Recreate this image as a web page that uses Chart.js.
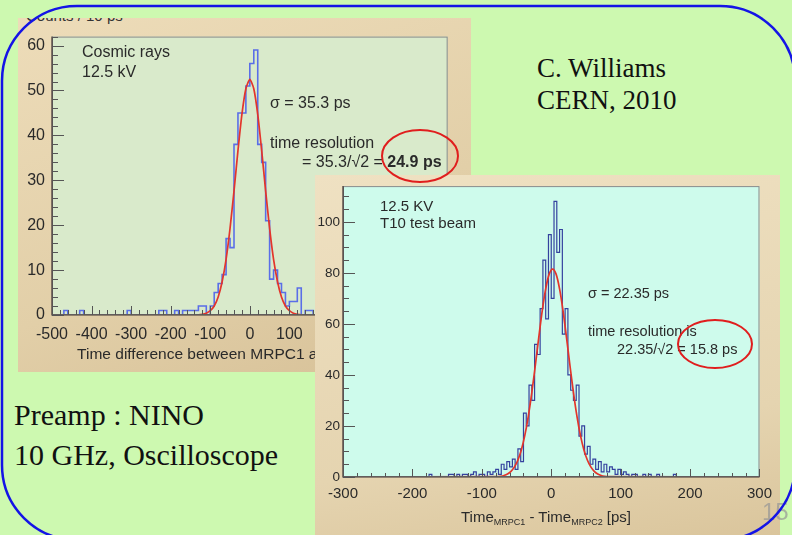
<!DOCTYPE html>
<html>
<head>
<meta charset="utf-8">
<title>MRPC time resolution</title>
<script src="https://cdn.jsdelivr.net/npm/chart.js@4.4.1/dist/chart.umd.min.js"></script>
<style>
  html, body { margin: 0; padding: 0; }
  body {
    width: 792px; height: 535px; overflow: hidden; position: relative;
    background: #cdf9b0;
    font-family: "Liberation Sans", Arial, sans-serif; color: #222;
  }
  .abs { position: absolute; white-space: nowrap; }
  .frame { position: absolute; overflow: hidden; }
  #frameL {
    left: 18px; top: 18px; width: 453px; height: 354px;
    background: linear-gradient(160deg, #eddcb9 0%, #e2cfa8 60%, #d6c097 100%);
  }
  #frameL canvas { position: absolute; left: 0; top: 2px; }
  #frameR {
    left: 315px; top: 175px; width: 465px; height: 360px;
    background: linear-gradient(170deg, #efe1c2 0%, #e5d4b0 70%, #dac59c 100%);
  }
  #frameR canvas { position: absolute; left: 0; top: 0; }
  .plotText { font-size: 16px; line-height: 20px; color: #2a2a2a; }
  .plotTextR { font-size: 14.5px; line-height: 18px; color: #2a2a2a; }
  .serif { font-family: "Liberation Serif", "Times New Roman", serif; color: #111; }
  sub { font-size: 9px; vertical-align: -3px; }
  #overlay { position: absolute; left: 0; top: 0; pointer-events: none; }
</style>
</head>
<body>

<div class="frame" id="frameL">
  <div class="abs" style="left:8px; top:-11px; font-size:15px; color:#333;">Counts / 10 ps</div>
  <canvas id="chartL" width="453" height="352"></canvas>
</div>

<div class="abs plotText" style="left:82px; top:42px;">Cosmic rays<br>12.5 kV</div>
<div class="abs plotText" style="left:270px; top:93px;">σ = 35.3 ps</div>
<div class="abs plotText" style="left:270px; top:133px;">time resolution</div>
<div class="abs plotText" style="left:302px; top:152px;">= 35.3/√2 = <b>24.9 ps</b></div>

<div class="frame" id="frameR">
  <canvas id="chartR" width="465" height="360"></canvas>
</div>

<div class="abs" style="left:380px; top:197px; font-size:15px; line-height:17px; color:#2a2a2a;">12.5 KV<br>T10 test beam</div>
<div class="abs plotTextR" style="left:588px; top:284px;">σ = 22.35 ps</div>
<div class="abs plotTextR" style="left:588px; top:322px;">time resolution is</div>
<div class="abs plotTextR" style="left:617px; top:340px;">22.35/√2 = 15.8 ps</div>
<div class="abs" style="left:546px; top:508px; transform:translateX(-50%); font-size:15px; line-height:18px; color:#2a2a2a;">Time<sub>MRPC1</sub> - Time<sub>MRPC2</sub> [ps]</div>

<div class="abs serif" style="left:537px; top:52px; font-size:27px; line-height:32px;">C. Williams<br>CERN, 2010</div>
<div class="abs serif" style="left:14px; top:395px; font-size:30px; line-height:40px;">Preamp : NINO<br>10 GHz, Oscilloscope</div>
<div class="abs" style="left:762px; top:498px; font-size:24px; line-height:28px; color:rgba(150,150,150,0.7);">15</div>

<svg id="overlay" width="792" height="535">
  <rect x="2" y="6" width="793" height="534" rx="75" ry="75" fill="none" stroke="#1414e6" stroke-width="2.5"/>
  <ellipse cx="420" cy="156" rx="38" ry="26" fill="none" stroke="#e01e1e" stroke-width="2"/>
  <ellipse cx="715" cy="344" rx="37" ry="24" fill="none" stroke="#e01e1e" stroke-width="2"/>
</svg>

<script>
// cosmic-ray run: time difference histogram, 10 ps bins from -500 ps
const cosmicBinStart = -500;
const cosmicBinWidth = 10;
const cosmicCounts = [
  0, 0, 0, 1, 0, 0, 0, 1, 0, 0,       // -500
  0, 0, 0, 0, 0, 0, 0, 0, 0, 1,       // -400
  0, 0, 0, 0, 0, 0, 0, 1, 1, 0,       // -300
  0, 1, 0, 1, 1, 1, 1, 2, 2, 0,       // -200
  2, 5, 7, 9, 17, 15, 38, 45, 45, 51, // -100
  56, 59, 38, 34, 21, 8, 10, 7, 5, 2, // 0
  3, 3, 6, 0, 1, 1, 0, 0, 0, 0,       // 100
  0, 0, 0, 0, 0, 0, 0, 0, 0, 0,       // 200
  0, 0, 0, 0, 0, 0, 0, 0, 0, 0,       // 300
  0, 0, 0, 0, 0, 0, 0, 0, 0, 0        // 400
];
// gaussian fit, sigma = 35.3 ps
const cosmicFitX = [-500, -130, -120, -110, -100, -90, -80, -70, -60, -50, -40, -30, -20, -10, 0,
  10, 20, 30, 40, 50, 60, 70, 80, 90, 100, 110, 120, 130, 500];
const cosmicFitY = [0, 0.06, 0.16, 0.41, 0.95, 2.0, 4.0, 7.4, 12.4, 19.3, 27.6, 36.6, 44.7, 50.4, 52.5,
  50.4, 44.7, 36.6, 27.6, 19.3, 12.4, 7.4, 4.0, 2.0, 0.95, 0.41, 0.16, 0.06, 0];

// T10 test beam: Time_MRPC1 - Time_MRPC2, 4 ps bins from -300 ps
const beamBinStart = -300;
const beamBinWidth = 4;
const beamCounts = [
  0, 0, 0, 0, 0, 0, 0, 0, 0, 0,           // -300
  0, 0, 0, 0, 0, 0, 0, 0, 0, 0,           // -260
  0, 0, 0, 0, 0, 0, 0, 0, 0, 0,           // -220
  0, 1, 0, 0, 0, 0, 0, 0, 1, 1,           // -180
  0, 1, 0, 1, 1, 0, 1, 2, 0, 1,           // -140
  1, 0, 2, 1, 2, 3, 1, 5, 3, 6,           // -100
  4, 7, 3, 11, 6, 25, 20, 36, 30, 52,     // -60
  48, 66, 85, 62, 95, 70, 108, 88, 97, 56,// -20
  66, 40, 34, 30, 36, 16, 20, 9, 12, 5,   // 20
  7, 3, 6, 2, 5, 2, 4, 3, 1, 3,           // 60
  1, 2, 1, 0, 1, 1, 0, 0, 1, 0,           // 100
  1, 0, 0, 1, 0, 0, 0, 0, 0, 1,           // 140
  0, 0, 0, 0, 0, 0, 0, 0, 0, 0,           // 180
  0, 0, 0, 0, 0, 0, 0, 0, 0, 0,           // 220
  0, 0, 0, 0, 0, 0, 0, 0, 0, 0            // 260
];
// gaussian fit, sigma = 22.35 ps
const beamFitX = [-300, -78, -73, -68, -63, -58, -53, -48, -43, -38, -33, -28, -23, -18, -13, -8, -3, 2,
  7, 12, 17, 22, 27, 32, 37, 42, 47, 52, 57, 62, 67, 72, 77, 82, 300];
const beamFitY = [0, 0.13, 0.29, 0.6, 1.19, 2.22, 3.95, 6.67, 10.7, 16.4, 23.9, 33.1, 43.6, 54.6, 65.1, 73.7, 79.5, 81.5,
  79.5, 73.7, 65.1, 54.6, 43.6, 33.1, 23.9, 16.4, 10.7, 6.67, 3.95, 2.22, 1.19, 0.6, 0.29, 0.13, 0];

const FONT = '"Liberation Sans", Arial, sans-serif';

// bin edges -> points for a stepped line
function histPoints(start, width, counts) {
  const pts = [{ x: start, y: 0 }];
  counts.forEach((c, i) => pts.push({ x: start + i * width, y: c }));
  pts.push({ x: start + counts.length * width, y: 0 });
  return pts;
}

function curvePoints(xs, ys) {
  return xs.map((x, i) => ({ x: x, y: ys[i] }));
}

// ROOT-like frame: filled pad, box, inward major/minor ticks
const rootFrame = {
  id: 'rootFrame',
  beforeDraw(chart, args, opts) {
    const { ctx, chartArea: a } = chart;
    ctx.save();
    ctx.fillStyle = opts.bg;
    ctx.fillRect(a.left, a.top, a.right - a.left, a.bottom - a.top);
    ctx.restore();
  },
  afterDatasetsDraw(chart, args, opts) {
    const { ctx, chartArea: a } = chart;
    const xs = chart.scales.x, ys = chart.scales.y;
    ctx.save();
    ctx.strokeStyle = '#8a8a8a';
    ctx.lineWidth = 1;
    ctx.strokeRect(a.left + 0.5, a.top + 0.5, a.right - a.left - 1, a.bottom - a.top - 1);

    ctx.strokeStyle = '#3a3030';
    ctx.lineWidth = 1.2;
    ctx.beginPath();
    ctx.moveTo(a.left, a.top); ctx.lineTo(a.left, a.bottom); ctx.lineTo(a.right, a.bottom);
    ctx.stroke();

    ctx.strokeStyle = '#555';
    ctx.lineWidth = 1;
    ctx.beginPath();
    for (let v = xs.min; v <= xs.max + 1e-6; v += opts.xMinor) {
      const px = Math.round(xs.getPixelForValue(v)) + 0.5;
      const major = Math.abs(v / opts.xMajor - Math.round(v / opts.xMajor)) < 1e-6;
      ctx.moveTo(px, a.bottom);
      ctx.lineTo(px, a.bottom - (major ? opts.xMajorLen : opts.xMinorLen));
    }
    for (let v = ys.min; v <= ys.max + 1e-6; v += opts.yMinor) {
      const py = Math.round(ys.getPixelForValue(v)) + 0.5;
      const major = Math.abs(v / opts.yMajor - Math.round(v / opts.yMajor)) < 1e-6;
      ctx.moveTo(a.left, py);
      ctx.lineTo(a.left + (major ? opts.yMajorLen : opts.yMinorLen), py);
    }
    ctx.stroke();
    ctx.restore();
  }
};

function makeChart(canvasId, cfg) {
  return new Chart(document.getElementById(canvasId), {
    type: 'scatter',
    data: {
      datasets: [
        {
          data: cfg.fit, showLine: true, tension: cfg.tension,
          borderColor: '#e3352b', borderWidth: 1.7, pointRadius: 0
        },
        {
          data: cfg.hist, showLine: true, stepped: 'before',
          borderColor: cfg.histColor, borderWidth: cfg.histWidth, pointRadius: 0
        }
      ]
    },
    options: {
      responsive: false,
      animation: false,
      events: [],
      layout: { padding: cfg.padding },
      plugins: {
        legend: { display: false },
        tooltip: { enabled: false },
        rootFrame: cfg.frame
      },
      scales: {
        x: {
          type: 'linear', min: cfg.xMin, max: cfg.xMax,
          afterFit: (s) => { s.height = cfg.xHeight; },
          grid: { display: false, drawTicks: false },
          border: { display: false },
          ticks: {
            stepSize: cfg.xStep, padding: cfg.xPad, autoSkip: false, maxRotation: 0,
            includeBounds: false, color: '#2a2a2a', font: { family: FONT, size: cfg.xFont }
          },
          title: cfg.xTitle
        },
        y: {
          type: 'linear', min: 0, max: cfg.yMax,
          afterFit: (s) => { s.width = cfg.yWidth; },
          grid: { display: false, drawTicks: false },
          border: { display: false },
          ticks: {
            stepSize: cfg.yStep, padding: cfg.yPad, autoSkip: false, includeBounds: false,
            color: '#2a2a2a', font: { family: FONT, size: cfg.yFont }
          }
        }
      }
    },
    plugins: [rootFrame]
  });
}

makeChart('chartL', {
  hist: histPoints(cosmicBinStart, cosmicBinWidth, cosmicCounts),
  fit: curvePoints(cosmicFitX, cosmicFitY),
  tension: 0.2,
  histColor: '#5a6ee8', histWidth: 1.6,
  padding: { top: 8, right: 19, left: 0, bottom: 0 },
  xMin: -500, xMax: 500, xStep: 100, xPad: 10, xFont: 16, xHeight: 57,
  yMax: 62, yStep: 10, yPad: 7, yFont: 16, yWidth: 34,
  xTitle: {
    display: true, text: 'Time difference between MRPC1 and MRPC2 [ps]',
    color: '#2a2a2a', font: { family: FONT, size: 15.5 }, padding: { top: 0, bottom: 8 }
  },
  frame: {
    bg: '#d9eacb', xMinor: 20, xMajor: 100, xMajorLen: 9, xMinorLen: 5,
    yMinor: 2, yMajor: 10, yMajorLen: 12, yMinorLen: 6
  }
});

makeChart('chartR', {
  hist: histPoints(beamBinStart, beamBinWidth, beamCounts),
  fit: curvePoints(beamFitX, beamFitY),
  tension: 0.3,
  histColor: 'rgba(36,46,150,0.9)', histWidth: 1.2,
  padding: { top: 3, right: 19, left: 0, bottom: 0 },
  xMin: -300, xMax: 300, xStep: 100, xPad: 8, xFont: 15, xHeight: 58,
  yMax: 114, yStep: 20, yPad: 3, yFont: 13.5, yWidth: 28,
  xTitle: { display: false },
  frame: {
    bg: '#cefbec', xMinor: 20, xMajor: 100, xMajorLen: 8, xMinorLen: 4,
    yMinor: 5, yMajor: 20, yMajorLen: 12, yMinorLen: 6
  }
});
</script>
</body>
</html>
